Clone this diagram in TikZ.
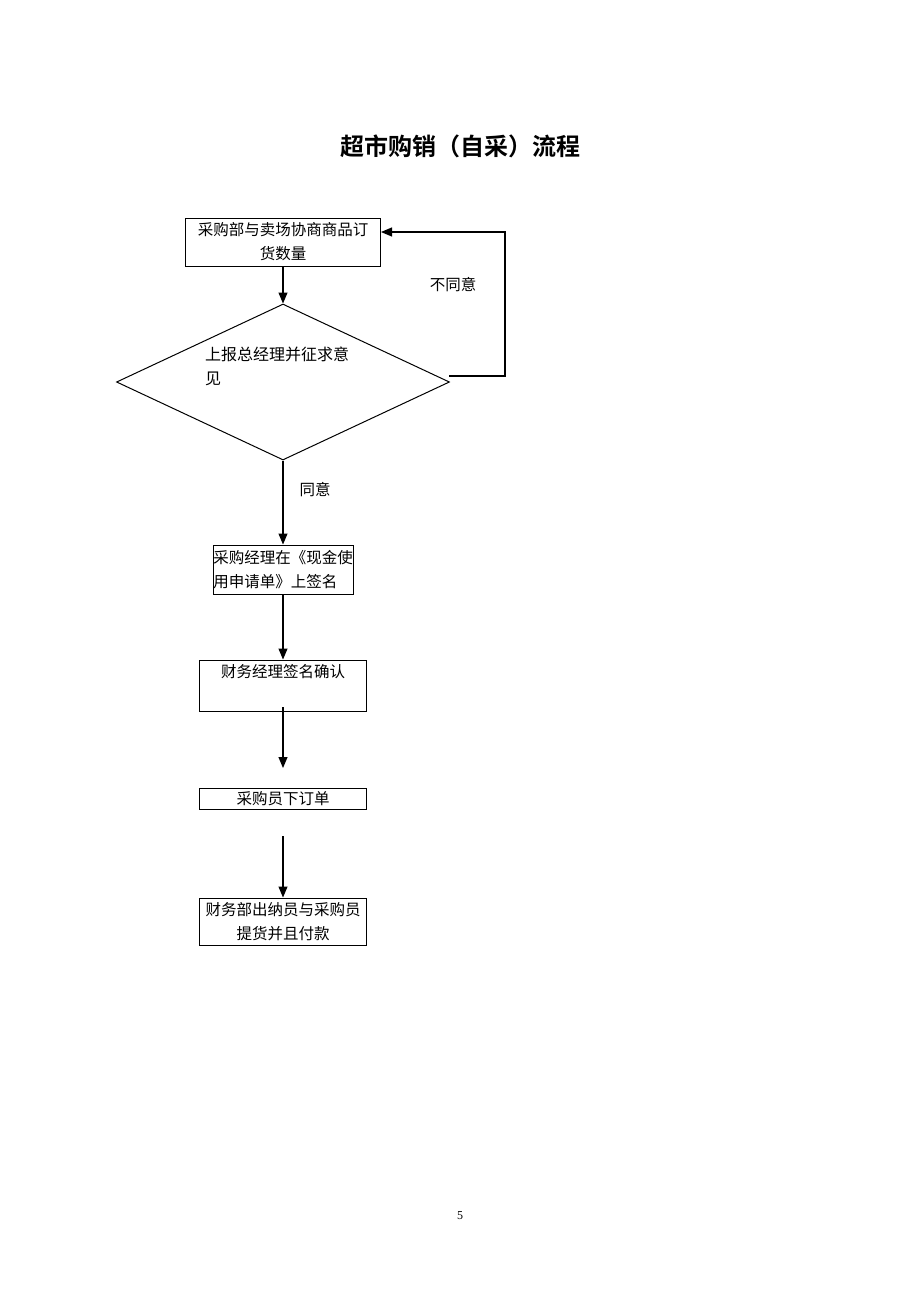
\documentclass[tikz,border=0pt]{standalone}
\usepackage{fontspec}
\setmainfont{Liberation Serif}
\newfontfamily\cjk{Noto Sans CJK SC}
\newfontfamily\cjkb{Noto Sans CJK SC Bold}
\usetikzlibrary{arrows.meta,shapes.geometric}
\tikzset{
  box/.style={draw, line width=1pt, inner sep=0pt, align=center, font=\cjk\fontsize{15.5}{24}\selectfont},
  txt/.style={inner sep=0pt, font=\cjk\fontsize{15.5}{24}\selectfont},
  arr/.style={-{Triangle[length=11pt,width=9pt]}, line width=1.1pt},
  ln/.style={line width=1pt}
}
\begin{document}
\begin{tikzpicture}[x=1pt,y=-1pt]
\useasboundingbox (0,0) rectangle (920,1302);
\node[font=\cjkb\fontsize{24}{28}\selectfont] (title) at (460,146) {超市购销（自采）流程};

\node[box, minimum width=195pt, minimum height=48pt] (b1) at (283,242) {采购部与卖场协商商品订\\货数量};
\node[draw, line width=1pt, diamond, aspect=2.135, minimum width=333pt, minimum height=156pt, inner sep=0pt] (d) at (283,382) {};
\node[txt, anchor=north west, align=left, font=\cjk\fontsize{16}{24}\selectfont] (dt) at (205,347) {上报总经理并征求意\\见};
\node[box, align=left, minimum width=140pt, minimum height=49pt] (b2) at (283,569.5) {采购经理在《现金使\\用申请单》上签名};
\node[draw, line width=1pt, minimum width=167pt, minimum height=51pt, inner sep=0pt] (b3) at (283,685.5) {};
\node[txt] (b3t) at (283,672) {财务经理签名确认};
\node[box, minimum width=167pt, minimum height=21pt] (b4) at (283,798.5) {采购员下订单};
\node[box, minimum width=167pt, minimum height=47pt] (b5) at (283,921.5) {财务部出纳员与采购员\\提货并且付款};

\node[txt] (lno) at (453,285) {不同意};
\node[txt] (lyes) at (315,490) {同意};
\node[font=\fontsize{12}{14}\selectfont] (pg) at (460,1216) {5};

\coordinate (dE) at (449,376);
\coordinate (c1) at (505,376);
\coordinate (s3) at (283,707);
\coordinate (e3) at (283,768);
\coordinate (s4) at (283,836);

\draw[arr] (b1.south) -- (d.north);
\draw[arr] (dE) -- (c1) |- ([yshift=10pt]b1.east);
\draw[arr] (d.south) -- (b2.north);
\draw[arr] (b2.south) -- (b3.north);
\draw[arr] (s3) -- (e3);
\draw[arr] (s4) -- (b5.north);
\end{tikzpicture}
\end{document}
